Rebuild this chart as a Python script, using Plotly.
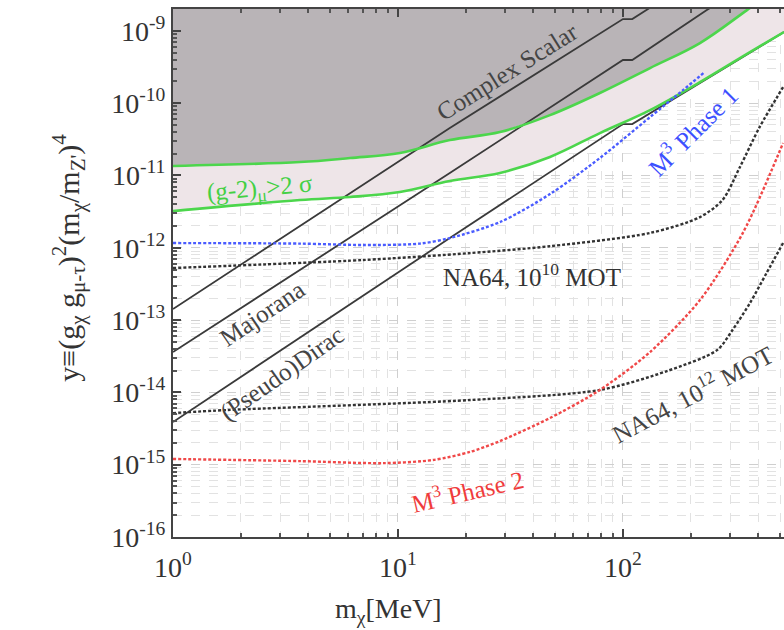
import numpy as np
import plotly.graph_objects as go

# ---------------- data ----------------
# (g-2)_mu 2-sigma band: upper and lower boundaries
g2_up_m = [1, 3.67, 6.12, 10.2, 17.0, 28.4, 47.4, 79, 132, 220, 356, 520]
g2_up_y = [1.35e-11, 1.53e-11, 1.74e-11, 2.04e-11, 3.08e-11, 3.97e-11,
           6.82e-11, 1.38e-10, 3.05e-10, 6.76e-10, 1.93e-9, 4.5e-9]
g2_lo_m = [1, 3.67, 6.12, 10.2, 17.0, 28.4, 47.4, 79, 132, 220, 367, 520]
g2_lo_y = [3.21e-12, 4.56e-12, 5.02e-12, 5.89e-12, 8.36e-12, 1.08e-11,
           1.80e-11, 3.85e-11, 8.0e-11, 1.95e-10, 5.07e-10, 9.6e-10]

# relic targets (solid black lines)
cs_m = [1, 17, 100, 110, 520]
cs_y = [1.42e-13, 4.52e-11, 1.45e-9, 1.45e-9, 3.2e-8]
maj_m = [1, 17, 100, 110, 236, 520]
maj_y = [3.61e-14, 1.08e-11, 3.94e-10, 3.94e-10, 1.93e-9, 9.5e-9]
dir_m = [1, 17, 100, 110, 520]
dir_y = [3.89e-15, 1.36e-12, 5.13e-11, 5.13e-11, 9.6e-10]

# projected sensitivities (dotted)
ph1_m = [1, 3.67, 7, 12.5, 17.0, 28.4, 47.4, 79, 132, 185, 231]
ph1_y = [1.16e-12, 1.14e-12, 1.09e-12, 1.14e-12, 1.36e-12, 2.26e-12,
         5.52e-12, 1.74e-11, 6.41e-11, 1.51e-10, 2.69e-10]
na10_m = [1, 7, 20.9, 47.4, 132, 220, 277, 331, 405, 515]
na10_y = [5.24e-13, 6.76e-13, 8.43e-13, 1.05e-12, 1.6e-12, 2.65e-12,
          4.56e-12, 1.30e-11, 4.65e-11, 1.66e-10]
na12_m = [1, 1.74, 20.9, 79, 157, 262, 307, 367, 435, 515]
na12_y = [5.17e-15, 5.7e-15, 7.83e-15, 1.08e-14, 1.97e-14, 3.84e-14,
          7.28e-14, 1.72e-13, 4.47e-13, 1.16e-12]
ph2_m = [1, 3.67, 8.6, 14.3, 20.9, 28.4, 47.4, 79, 132, 220, 343, 515]
ph2_y = [1.2e-15, 1.12e-15, 1.05e-15, 1.16e-15, 1.5e-15, 2.12e-15, 4.42e-15,
         1.08e-14, 3.61e-14, 1.89e-13, 1.65e-12, 2.8e-11]

# labels: text, mass, y, angle, colour
labels = [
    ("Complex Scalar", 30.8, 2.7e-10, -32, "#444444"),
    ("(g-2)<sub>μ</sub>&gt;2 σ", 2.44, 6.3e-12, -5, "#44d044"),
    ("M<sup>3</sup> Phase 1", 203, 4.2e-11, -45, "#3c50ff"),
    ("Majorana", 2.49, 1.25e-13, -34, "#444444"),
    ("(Pseudo)Dirac", 3.05, 1.8e-14, -35, "#444444"),
    ("NA64, 10<sup>10</sup> MOT", 39.4, 4.2e-13, 0, "#333333"),
    ("NA64, 10<sup>12</sup> MOT", 203, 9.8e-15, -28, "#444444"),
    ("M<sup>3</sup> Phase 2", 20.3, 4.5e-16, -13, "#f03c3c"),
]

y_tick_exp = [-16, -15, -14, -13, -12, -11, -10, -9]
x_tick_exp = [0, 1, 2]

X_MAX = 520
Y_TOP = 2.0e-9
CEIL = 1e-7

FONT = "Liberation Serif"
GRAY_FILL = "#b9b4b7"
PINK_FILL = "#eee5e8"
GREEN = "#4cd64c"

fig = go.Figure()

# gray excluded region above upper (g-2) boundary
fig.add_trace(go.Scatter(
    x=g2_up_m + [X_MAX, 1], y=g2_up_y + [CEIL, CEIL],
    fill="toself", fillcolor=GRAY_FILL, line=dict(width=0), mode="lines",
    hoverinfo="skip", showlegend=False))
# pink (g-2) band
fig.add_trace(go.Scatter(
    x=g2_lo_m + g2_up_m[::-1], y=g2_lo_y + g2_up_y[::-1],
    fill="toself", fillcolor=PINK_FILL, line=dict(width=0), mode="lines",
    hoverinfo="skip", showlegend=False))

# relic target lines
for m, y in [(cs_m, cs_y), (maj_m, maj_y), (dir_m, dir_y)]:
    fig.add_trace(go.Scatter(x=m, y=y, mode="lines",
                             line=dict(color="#3a3a3a", width=1.8),
                             showlegend=False))

# green boundaries
for m, y in [(g2_up_m, g2_up_y), (g2_lo_m, g2_lo_y)]:
    fig.add_trace(go.Scatter(x=m, y=y, mode="lines",
                             line=dict(color=GREEN, width=2.6, shape="spline"),
                             showlegend=False))

# dotted sensitivity curves
dots = "3px,2px"
for m, y, c in [(na10_m, na10_y, "#333333"), (na12_m, na12_y, "#333333"),
                (ph1_m, ph1_y, "#4a5cff"), (ph2_m, ph2_y, "#f04848")]:
    fig.add_trace(go.Scatter(x=m, y=y, mode="lines",
                             line=dict(color=c, width=2.4, dash=dots,
                                       shape="spline", smoothing=0.8),
                             showlegend=False))

for txt, m, y, ang, col in labels:
    fig.add_annotation(x=np.log10(m), y=np.log10(y), xref="x", yref="y",
                       text=txt, showarrow=False, textangle=ang,
                       font=dict(family=FONT, size=25, color=col))

# axis titles (placed as annotations to match the cropped original)
fig.add_annotation(xref="paper", yref="paper", x=-0.2095, y=0.53,
                   text="y≡(g<sub>χ</sub> g<sub>μ-τ</sub>)<sup>2</sup>(m<sub>χ</sub>/m<sub>Z'</sub>)<sup>4</sup>",
                   textangle=-90, showarrow=False,
                   font=dict(family=FONT, size=30, color="#333"))
fig.add_annotation(xref="paper", yref="paper", x=0.352, y=-0.102,
                   yanchor="top",
                   text="m<sub>χ</sub>[MeV]", showarrow=False,
                   font=dict(family=FONT, size=28, color="#333"))

minor_x = [k * 10 ** e for e in range(0, 3) for k in range(2, 10)]
minor_y = [k * 10.0 ** e for e in range(-16, -8) for k in range(2, 10)]

fig.update_xaxes(
    type="log", range=[0, np.log10(X_MAX)],
    tickvals=[10.0 ** e for e in x_tick_exp],
    ticktext=[f"10<sup>{e}</sup>" for e in x_tick_exp],
    ticks="inside", ticklen=8, tickwidth=1.5, tickcolor="#444",
    showline=True, linecolor="#444", linewidth=2, mirror="ticks",
    showgrid=True, gridcolor="#cfcfcf", gridwidth=1, griddash="dash",
    minor=dict(tickvals=minor_x, ticks="inside", ticklen=4, tickcolor="#555",
               showgrid=True, gridcolor="#e2e2e2", griddash="dash", gridwidth=1),
    tickfont=dict(family=FONT, size=28, color="#333"),
    ticklabelstandoff=4,
    zeroline=False,
)
fig.update_yaxes(
    type="log", range=[-16, np.log10(Y_TOP)],
    tickvals=[10.0 ** e for e in y_tick_exp],
    ticktext=[f"10<sup>{e}</sup>" for e in y_tick_exp],
    ticks="inside", ticklen=8, tickwidth=1.5, tickcolor="#444",
    showline=True, linecolor="#444", linewidth=2, mirror=False,
    showgrid=True, gridcolor="#cfcfcf", gridwidth=1, griddash="dash",
    minor=dict(tickvals=minor_y, ticks="inside", ticklen=4, tickcolor="#555",
               showgrid=True, gridcolor="#e2e2e2", griddash="dash", gridwidth=1),
    tickfont=dict(family=FONT, size=28, color="#333"),
    zeroline=False,
)

fig.update_layout(
    width=784, height=630,
    margin=dict(l=173, r=0, t=9, b=93),
    plot_bgcolor="white", paper_bgcolor="white",
    showlegend=False,
    font=dict(family=FONT),
)

fig.write_html("out.html")
